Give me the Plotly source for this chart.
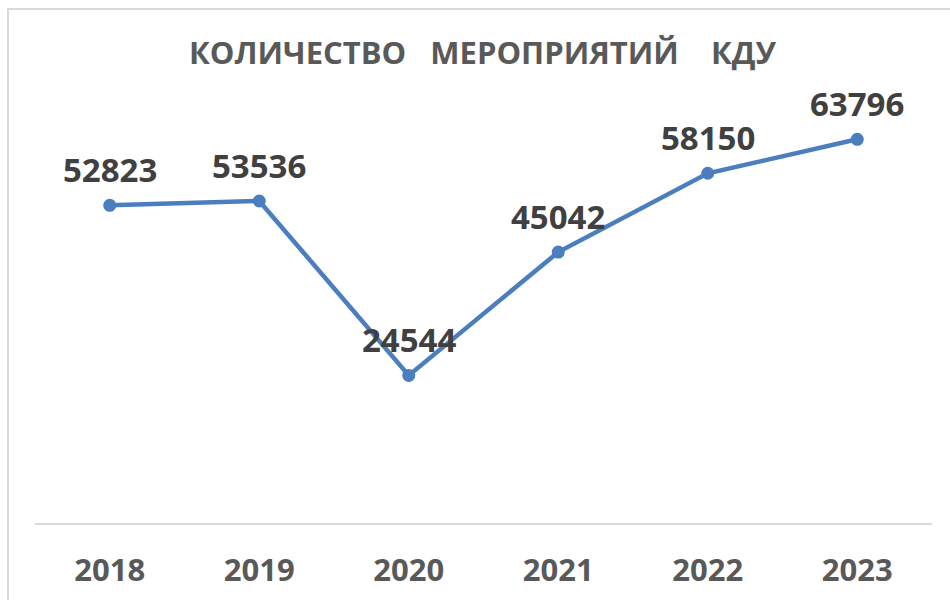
import plotly.graph_objects as go

years = ["2018", "2019", "2020", "2021", "2022", "2023"]
values = [52823, 53536, 24544, 45042, 58150, 63796]
title_text = "КОЛИЧЕСТВО   МЕРОПРИЯТИЙ    КДУ"

W, H = 950, 600
L, R, T, B = 35, 18, 102, 77
pw, ph = W - L - R, H - T - B

fig = go.Figure()
fig.add_trace(go.Scatter(
    x=years, y=values, mode="lines+markers",
    line=dict(color="#4A7EBF", width=4.5),
    marker=dict(color="#4A7EBF", size=13),
    cliponaxis=False,
    hoverinfo="skip",
))

for i, v in enumerate(values):
    fig.add_annotation(x=i, y=v, xref="x", yref="y", text=str(v), showarrow=False,
                       yshift=36, xanchor="center", yanchor="middle",
                       font=dict(family="Open Sans", size=33, color="#404040", weight="bold"))

# outer chart border (light gray)
fig.add_shape(type="rect", xref="paper", yref="paper",
              x0=(8 - L) / pw, x1=(W + 20 - L) / pw,
              y0=-(H + 20 - (H - B)) / ph, y1=((H - B) - 9) / ph,
              line=dict(color="#D9D9D9", width=2), fillcolor="rgba(0,0,0,0)", layer="below")

fig.update_layout(
    width=W, height=H,
    margin=dict(l=L, r=R, t=T, b=B, autoexpand=False),
    paper_bgcolor="white", plot_bgcolor="white",
    showlegend=False,
    title=dict(text=title_text, x=(482.5) / W, xanchor="center", y=1 - 53 / H, yanchor="middle",
               font=dict(family="Open Sans", size=31, color="#595959", weight="bold")),
    xaxis=dict(type="category", range=[-0.5, 5.5], showgrid=False, zeroline=False,
               showline=True, linecolor="#D9D9D9", linewidth=2, automargin=False,
               ticks="", ticklabelstandoff=19,
               tickfont=dict(family="Open Sans", size=31, color="#595959", weight="bold")),
    yaxis=dict(range=[0, 70000], visible=False, showgrid=False, zeroline=False, automargin=False),
)

fig.write_html("out.html")
